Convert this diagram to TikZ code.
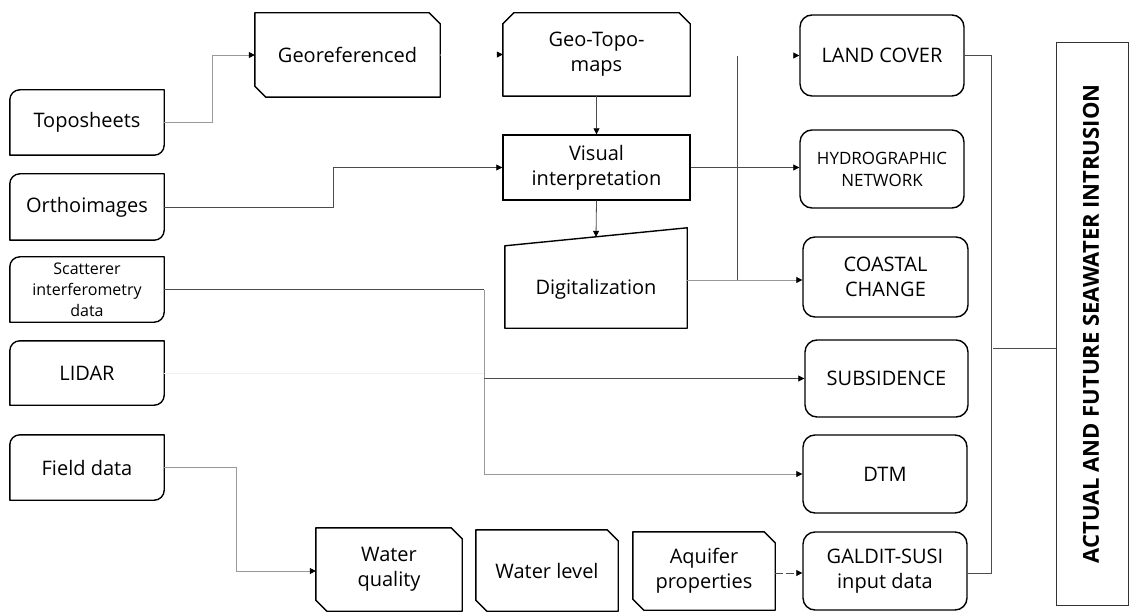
\documentclass[tikz,border=0pt]{standalone}
\usepackage{fontspec}
\setmainfont{Open Sans}
\usetikzlibrary{arrows.meta,calc}
\newcommand\snipTRBL[1]{\draw[outl] (#1.north west) -- ([xshift=-11pt]#1.north east) -- ([yshift=-11pt]#1.north east) -- (#1.south east) -- ([xshift=11pt]#1.south west) -- ([yshift=11pt]#1.south west) -- cycle;}
\newcommand\snipTop[1]{\draw[outl] ([yshift=-11pt]#1.north west) -- ([xshift=11pt]#1.north west) -- ([xshift=-11pt]#1.north east) -- ([yshift=-11pt]#1.north east) -- (#1.south east) -- (#1.south west) -- cycle;}
\newcommand\roundTLBR[1]{\draw[outl] (#1.north east) -- ([yshift=10pt]#1.south east) .. controls ([yshift=4.5pt]#1.south east) and ([xshift=-4.5pt]#1.south east) .. ([xshift=-10pt]#1.south east) -- (#1.south west) -- ([yshift=-10pt]#1.north west) .. controls ([yshift=-4.5pt]#1.north west) and ([xshift=4.5pt]#1.north west) .. ([xshift=10pt]#1.north west) -- cycle;}
\begin{document}
\begin{tikzpicture}[x=1pt,y=-1pt,
  box/.style={draw=none,inner sep=0pt,align=center,font=\fontsize{20}{25}\selectfont},
  outl/.style={draw=black,line width=1.4pt,line join=round},
  outbox/.style={box,draw=black,line width=1.4pt,rounded corners=12pt},
  conn/.style={line width=0.8pt,draw=black!70},
  connlight/.style={line width=0.8pt,draw=black!40},
  arrowed/.style={-{Triangle[length=6pt,width=6pt,color=black]}},
  ghost/.style={line width=0.8pt,draw=white,-{Triangle[length=6pt,width=6pt,color=black]}},
]
\useasboundingbox (0,0) rectangle (1129,612);

% left inputs
\node[box,minimum width=154pt,minimum height=65pt] (topo) at (87,122.5) {Toposheets};
\node[box,minimum width=154pt,minimum height=66pt] (ortho) at (87,207) {Orthoimages};
\node[box,minimum width=154pt,minimum height=65pt,font=\fontsize{16}{21}\selectfont] (scat) at (87,289.5) {Scatterer\\interferometry\\data};
\node[box,minimum width=154pt,minimum height=64pt] (lidar) at (87,373) {LIDAR};
\node[box,minimum width=154pt,minimum height=65pt] (field) at (87,467.5) {Field data};
\roundTLBR{topo}\roundTLBR{ortho}\roundTLBR{scat}\roundTLBR{lidar}\roundTLBR{field}

% middle
\node[box,minimum width=185pt,minimum height=84pt] (geo) at (347.5,55) {Georeferenced};
\snipTRBL{geo}
\node[box,minimum width=187pt,minimum height=83pt] (gtm) at (596.5,54.5) {Geo-Topo-\\maps};
\snipTop{gtm}
\node[box,draw=black,line width=1.4pt,minimum width=187pt,minimum height=65pt] (vis) at (596.5,167.5) {Visual\\interpretation};
\node[box,minimum width=182pt,minimum height=100pt] (dig) at (596,278) {};
\node[box] (digtxt) at (596,289) {Digitalization};
\draw[outl] ([yshift=-18pt]dig.north west) -- (dig.north east) -- (dig.south east) -- (dig.south west) -- cycle;

% outputs
\node[outbox,minimum width=164pt,minimum height=81pt] (land) at (882,55.5) {LAND COVER};
\node[outbox,minimum width=164pt,minimum height=78pt,font=\fontsize{17}{22}\selectfont] (hydro) at (882,169) {HYDROGRAPHIC\\NETWORK};
\node[outbox,minimum width=165pt,minimum height=80pt] (coastal) at (885.5,277) {COASTAL\\CHANGE};
\node[outbox,minimum width=163pt,minimum height=77pt] (subs) at (886.5,378.5) {SUBSIDENCE};
\node[outbox,minimum width=164pt,minimum height=78pt] (dtm) at (885,474) {DTM};
\node[outbox,minimum width=164pt,minimum height=78pt] (galdit) at (885,571) {GALDIT-SUSI\\input data};

% bottom
\node[box,minimum width=146pt,minimum height=83pt] (wq) at (389,569.5) {Water\\quality};
\node[box,minimum width=142pt,minimum height=81pt] (wl) at (547,570.5) {Water level};
\node[box,minimum width=142pt,minimum height=78pt] (aq) at (704,571) {Aquifer\\properties};
\snipTRBL{wq}\snipTRBL{wl}\snipTRBL{aq}

% big box
\node[draw=black!80,line width=1pt,minimum width=72pt,minimum height=562pt] (big) at (1092,324) {};
\node[rotate=90,font=\bfseries\fontsize{22}{26}\selectfont] (title) at (1091,324) {ACTUAL AND FUTURE SEAWATER INTRUSION};

% connectors
\draw[connlight,arrowed] (topo.east) -- ++(48,0) |- (geo.west);
\draw[ghost] (geo.east) -- (gtm.west);
\draw[conn,arrowed] (ortho.east) -- (333,207) |- (vis.west);
\draw[conn,arrowed] (gtm.south) -- (vis.north);
\draw[conn,arrowed] (vis.south) -- ([yshift=-9pt]dig.north);
\draw[conn,arrowed] (vis.east) -- (vis.east -| hydro.west);
\coordinate (j1) at (737,280);
\coordinate (j2) at (737,55.5);
\draw[connlight,arrowed] ([yshift=-2pt]dig.east) -- (j1 -| coastal.west);
\draw[conn] (j1) -- (j2);
\draw[ghost] (j2) -- (land.west);
\coordinate (s1) at (484,289.5);
\coordinate (l1) at (484,373);
\coordinate (l2) at (484,378.5);
\draw[conn] (scat.east) -- (s1);
\draw[connlight,arrowed] (s1) |- (dtm.west);
\draw[line width=0.8pt,draw=black!6] (lidar.east) -- (l1);
\draw[conn,arrowed] (l2) -- (subs.west);
\draw[connlight,arrowed] (field.east) -- ++(72,0) |- ([yshift=-1.5pt]wq.west);
\draw[conn,arrowed,dash pattern=on 8pt off 3pt] ([yshift=-2pt]aq.east) -- ([yshift=-2pt]galdit.west);
\coordinate (cTop) at (991,55.5);
\coordinate (cBot) at (991,573);
\coordinate (cMid) at (993,348);
\draw[conn] (land.east) -- (cTop) -- (cBot) -- (cBot -| galdit.east);
\draw[conn] (cMid) -- (cMid -| big.west);
\end{tikzpicture}
\end{document}
